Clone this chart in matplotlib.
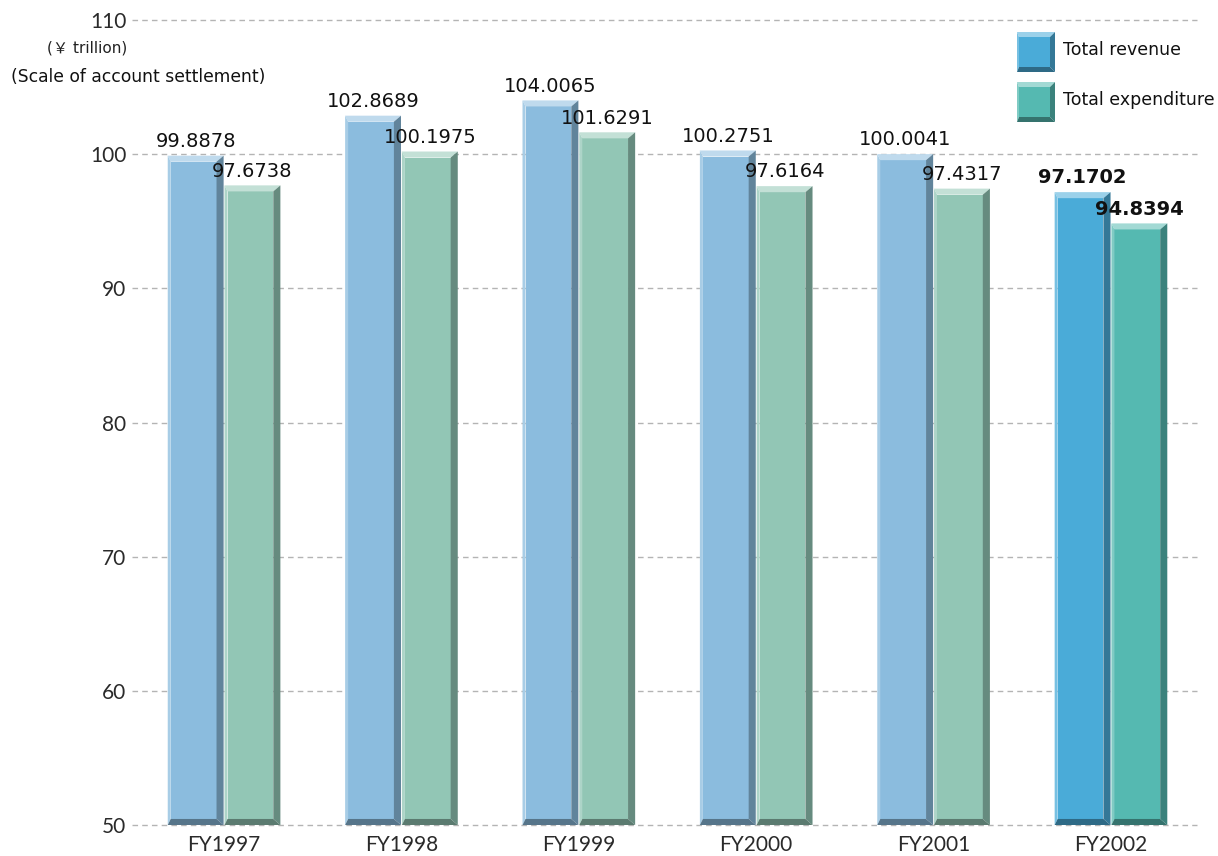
import matplotlib.pyplot as plt
import numpy as np
from matplotlib.patches import Polygon, Rectangle
from matplotlib.colors import to_rgb

years = ['FY1997', 'FY1998', 'FY1999', 'FY2000', 'FY2001', 'FY2002']
revenue = [99.8878, 102.8689, 104.0065, 100.2751, 100.0041, 97.1702]
expenditure = [97.6738, 100.1975, 101.6291, 97.6164, 97.4317, 94.8394]
y_ticks = [50, 60, 70, 80, 90, 100, 110]

rev_color = '#8bbcde'
exp_color = '#92c6b5'
rev_hi = '#4aabd8'
exp_hi = '#55b9b1'


def shade(c, f):
    r = np.array(to_rgb(c))
    if f > 0:
        return tuple(r + (1 - r) * f)
    return tuple(r * (1 + f))


def bevel_bar(ax, x0, y0, w, h, color, bxl, bxr, by):
    x1 = x0 + w
    y1 = y0 + h
    faces = [
        ([(x0, y1), (x1, y1), (x1 - bxr, y1 - by), (x0 + bxl, y1 - by)], shade(color, 0.45)),
        ([(x0, y0), (x0, y1), (x0 + bxl, y1 - by), (x0 + bxl, y0 + by)], shade(color, 0.25)),
        ([(x1, y1), (x1, y0), (x1 - bxr, y0 + by), (x1 - bxr, y1 - by)], shade(color, -0.3)),
        ([(x0, y0), (x1, y0), (x1 - bxr, y0 + by), (x0 + bxl, y0 + by)], shade(color, -0.38)),
    ]
    ax.add_patch(Rectangle((x0 + bxl, y0 + by), w - bxl - bxr, h - 2 * by,
                           facecolor=color, edgecolor='none', zorder=3))
    for pts, c in faces:
        ax.add_patch(Polygon(pts, closed=True, facecolor=c, edgecolor='none', zorder=3))


fig = plt.figure(figsize=(12.18, 8.56), dpi=100)
ax = fig.add_axes([132 / 1218, 31 / 856, 1065 / 1218, 805 / 856])

x = np.arange(len(years))
width = 0.315
off = 0.16
base = 50
for i in x:
    last = i == len(years) - 1
    rc = rev_hi if last else rev_color
    ec = exp_hi if last else exp_color
    bevel_bar(ax, i - off - width / 2, base, width, revenue[i] - base, rc, 0.017, 0.04, 0.45)
    bevel_bar(ax, i + off - width / 2, base, width, expenditure[i] - base, ec, 0.017, 0.04, 0.45)
    fw = 'bold' if last else 'normal'
    ax.text(i - off, revenue[i] + 0.35, f'{revenue[i]:.4f}', ha='center', va='bottom',
            fontsize=14, color='#111111', fontweight=fw, zorder=4)
    ax.text(i + off, expenditure[i] + 0.35, f'{expenditure[i]:.4f}', ha='center', va='bottom',
            fontsize=14, color='#111111', fontweight=fw, zorder=4)

ax.set_xlim(-0.519, 5.485)
ax.set_ylim(50, 110)
ax.set_yticks(y_ticks)
ax.set_xticks(x)
ax.set_xticklabels(years)
ax.yaxis.grid(True, linestyle=(0, (4, 3)), color='#b4b4b4', linewidth=1.0, zorder=0)
for gl in ax.get_ygridlines():
    gl.set_clip_on(False)
ax.set_axisbelow(True)
ax.tick_params(axis='both', length=0, labelsize=15, labelcolor='#2a2a2a')
ax.tick_params(axis='x', pad=7)
ax.tick_params(axis='y', pad=4)
for lbl in ax.get_xticklabels() + ax.get_yticklabels():
    lbl.set_family('Lato')
for s in ax.spines.values():
    s.set_visible(False)

fig.text(127 / 1218, 1 - 48 / 856, '(￥ trillion)', ha='right', va='center', fontsize=11,
         color='#222222', family=['DejaVu Sans', 'Noto Sans CJK JP'])
fig.text(11 / 1218, 1 - 77 / 856, '(Scale of account settlement)', ha='left', va='center',
         fontsize=12.3, color='#111111')

# legend
lax = fig.add_axes([1010 / 1218, 1 - 125 / 856, 208 / 1218, 100 / 856])
lax.set_xlim(0, 208)
lax.set_ylim(0, 100)
lax.axis('off')
bevel_bar(lax, 7, 53, 38, 40, rev_hi, 2, 5, 5)
bevel_bar(lax, 7, 3, 38, 40, exp_hi, 2, 5, 5)
lax.text(53, 75, 'Total revenue', va='center', fontsize=12.5, color='#111111')
lax.text(53, 25, 'Total expenditure', va='center', fontsize=12.5, color='#111111')

fig.savefig('out.png', dpi=100)
